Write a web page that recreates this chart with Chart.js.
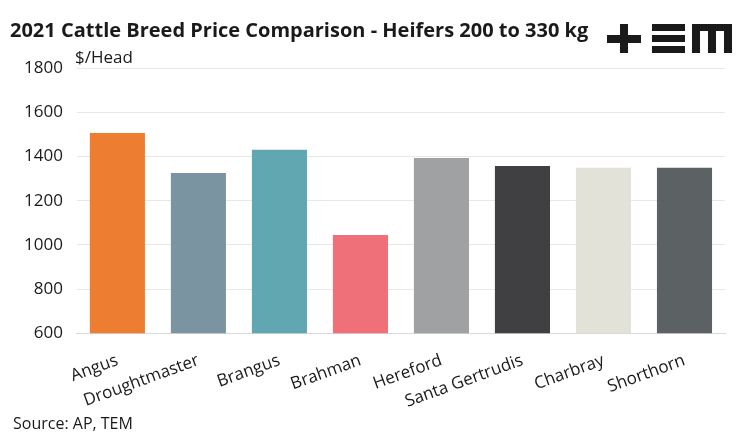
<!DOCTYPE html>
<html>
<head>
<meta charset="utf-8">
<script src="https://cdn.jsdelivr.net/npm/chart.js@4"></script>
<style>
  body { margin: 0; background: #fff; }
  #wrap { width: 747px; height: 437px; position: relative; }
</style>
</head>
<body>
<div id="wrap"><canvas id="myChart"></canvas></div>
<script>
// breeds and prices ($/head)
const breeds = ['Angus', 'Droughtmaster', 'Brangus', 'Brahman', 'Hereford', 'Santa Gertrudis', 'Charbray', 'Shorthorn']
const prices = [1506, 1325, 1430, 1045, 1393, 1357, 1349, 1349]
const barColours = ['#ED7D31', '#7A95A1', '#61A7B2', '#F07079', '#A0A1A3', '#404042', '#E2E2D9', '#5C6163']
const yTicks = [600, 800, 1000, 1200, 1400, 1600, 1800]

const FONT = '"Open Sans", sans-serif'

// title, unit, source and logo drawn on top of the chart
const extras = {
    id: 'extras',
    afterDraw(chart) {
        const ctx = chart.ctx
        ctx.save()
        ctx.fillStyle = '#1a1a1a'
        ctx.textBaseline = 'alphabetic'
        ctx.font = 'bold 20px ' + FONT
        ctx.fillText('2021 Cattle Breed Price Comparison - Heifers 200 to 330 kg', 10, 37)
        ctx.font = '17px ' + FONT
        ctx.fillText('$/Head', 75, 63)
        ctx.font = '16px ' + FONT
        ctx.fillText('Source: AP, TEM', 13, 429)

        // TEM logo
        ctx.fillRect(607, 35, 34, 8)
        ctx.fillRect(620, 24, 8, 29)
        ctx.fillRect(652, 24, 33, 7)
        ctx.fillRect(652, 35, 33, 7)
        ctx.fillRect(652, 46, 33, 7)
        ctx.fillRect(692, 24, 40, 7)
        ctx.fillRect(692, 24, 8, 29)
        ctx.fillRect(708, 24, 8, 29)
        ctx.fillRect(724, 24, 8, 29)
        ctx.restore()
    }
}

const ctx = document.getElementById('myChart').getContext('2d')
const myChart = new Chart(ctx, {
    type: 'bar',
    data: {
        labels: breeds,
        datasets: [{
            data: prices,
            backgroundColor: barColours,
            borderWidth: 0,
            barPercentage: 0.68,
            categoryPercentage: 1
        }]
    },
    options: {
        responsive: true,
        maintainAspectRatio: false,
        animation: false,
        layout: { padding: { left: 10, right: 22, top: 68, bottom: 16 } },
        plugins: {
            legend: { display: false },
            tooltip: { enabled: false }
        },
        scales: {
            x: {
                grid: { display: false },
                border: { color: '#d9d9d9' },
                ticks: {
                    color: '#1a1a1a',
                    font: { family: FONT, size: 17 },
                    minRotation: 20,
                    maxRotation: 20,
                    padding: 9,
                    autoSkip: false
                }
            },
            y: {
                min: 600,
                max: 1800,
                afterBuildTicks(axis) {
                    axis.ticks = yTicks.map(v => ({ value: v }))
                },
                grid: { color: '#e8e8e8', drawTicks: false },
                border: { display: false },
                ticks: {
                    color: '#1a1a1a',
                    padding: 14,
                    font: { family: FONT, size: 17 },
                    callback: v => String(v)
                }
            }
        }
    },
    plugins: [extras]
})
</script>
</body>
</html>
